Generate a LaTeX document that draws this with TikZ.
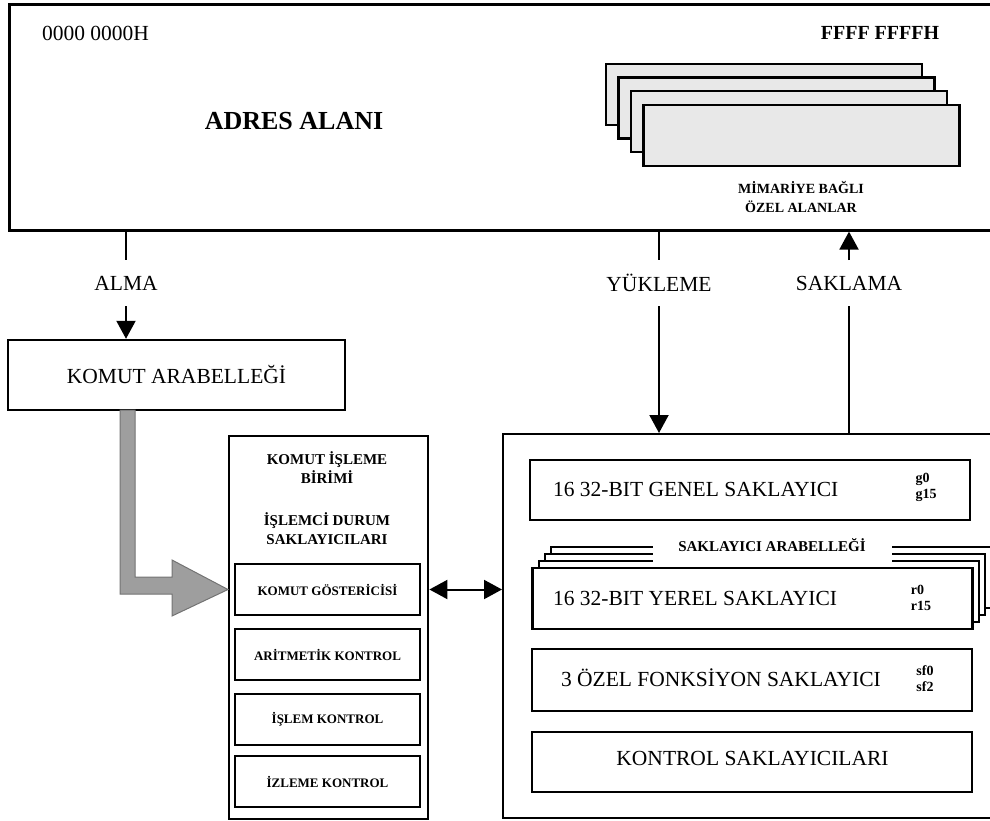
\documentclass[tikz,border=0pt]{standalone}
\usepackage{fontspec}
\setmainfont{Liberation Serif}
\usetikzlibrary{arrows.meta}

\begin{document}
\begin{tikzpicture}[x=1pt, y=-1pt, line width=2pt, >={Triangle[length=18pt,width=19pt]}]
    \tikzstyle{blk}=[draw, line width=2.4pt, shape=rectangle, inner sep=0pt]
    \tikzstyle{page}=[blk, fill=black!9, minimum width=316pt, minimum height=61pt]
    \tikzstyle{reg}=[blk, minimum width=440pt, minimum height=61pt]
    \tikzstyle{ctl}=[blk, line width=2pt, minimum width=185pt, minimum height=51pt, font=\fontsize{13}{15}\selectfont\bfseries]
    \tikzstyle{big}=[font=\fontsize{21.5}{24}\selectfont, inner sep=0pt]
    \tikzstyle{small}=[font=\fontsize{15}{19}\selectfont\bfseries, align=center, inner sep=0pt]
    \tikzstyle{tiny}=[font=\fontsize{14}{16}\selectfont\bfseries, align=left, inner sep=0pt]
    \tikzstyle{lbl}=[big, minimum height=44pt]

    \useasboundingbox (0,0) rectangle (990,821);

    % Address space
    \node[blk, line width=2.6pt, minimum width=1000pt, minimum height=226pt, anchor=north west](adres) at (8,3){};
    \node[big](lo) at (95.5,33){0000 0000H};
    \node[big, font=\fontsize{20}{22}\selectfont\bfseries](hi) at (880,33){FFFF FFFFH};
    \node[big, font=\fontsize{26}{28}\selectfont\bfseries](adrl) at (294,121){ADRES ALANI};

    % Special areas
    \node[page](p1) at (764,94.5){};
    \node[page](p2) at (776.5,108){};
    \node[page](p3) at (789,121.5){};
    \node[page](p4) at (801.5,135.5){};
    \node[small, font=\fontsize{14}{19}\selectfont\bfseries](ozel) at (801,196.5){MİMARİYE BAĞLI\\ÖZEL ALANLAR};

    % Labels between
    \node[lbl](alma) at (126,283){ALMA};
    \node[lbl](yuk) at (659,283){YÜKLEME};
    \node[lbl](sak) at (849,283){SAKLAMA};

    % Instruction buffer
    \node[blk, big, minimum width=337pt, minimum height=70pt](kbuf) at (176.5,375){KOMUT ARABELLEĞİ};

    % Instruction unit
    \node[blk, minimum width=199pt, minimum height=383pt, anchor=north west](lpu) at (228,435){};
    \node[small](kib) at (327,467.5){KOMUT İŞLEME\\BİRİMİ};
    \node[small](idsl) at (327,529){İŞLEMCİ DURUM\\SAKLAYICILARI};
    \node[ctl](kgos) at (327.5,589.5){KOMUT GÖSTERİCİSİ};
    \node[ctl](arit) at (327.5,654.5){ARİTMETİK KONTROL};
    \node[ctl](islk) at (327.5,719.5){İŞLEM KONTROL};
    \node[ctl](izlk) at (327.5,781.5){İZLEME KONTROL};

    % Register file
    \node[blk, minimum width=500pt, minimum height=384pt, anchor=north west](rfile) at (502,433){};
    \node[reg, minimum height=60pt](genel) at (750,490){};
    \node[big, anchor=west](genl) at (552,489){16 32-BIT GENEL SAKLAYICI};
    \node[tiny](gr) at (926,487){g0\\g15};

    \node[reg, line width=2pt, fill=white](y3) at (771.4,577.5){};
    \node[reg, line width=2pt, fill=white](y2) at (765.1,584.5){};
    \node[reg, line width=2pt, fill=white](y1) at (758.8,591.5){};
    \node[fill=white, minimum width=239pt, minimum height=26pt, inner sep=0pt](gap) at (772.5,550){};
    \node[small](rbuf) at (772,545){SAKLAYICI ARABELLEĞİ};
    \node[reg, fill=white](yerel) at (752.5,598.5){};
    \node[big, anchor=west](yerl) at (552,598){16 32-BIT YEREL SAKLAYICI};
    \node[tiny](rr) at (921,598){r0\\r15};

    \node[reg, minimum height=62pt](ozl) at (752,680){};
    \node[big, anchor=west](ozll) at (560,678){3 ÖZEL FONKSİYON SAKLAYICI};
    \node[tiny](sr) at (925,679){sf0\\sf2};

    \node[reg, minimum height=60pt](kont) at (752,762){};
    \node[big](kontl) at (752.5,758){KONTROL SAKLAYICILARI};

    % Connections
    \draw (adres.south -| alma) -- (alma.north);
    \draw[->] (alma.south) -- (kbuf.north -| alma);

    \draw (adres.south -| yuk) -- (yuk.north);
    \draw[->] (yuk.south) -- (rfile.north -| yuk);

    \draw (rfile.north -| sak) -- (sak.south);
    \draw[->] (sak.north) -- (adres.south -| sak);

    \coordinate (tip) at (kgos.west -| lpu.west);
    \draw[fill=black!38, draw=black!55, line width=1pt] (120,410) -- (135,410) -- (135,577) -- (172,577) -- (172,560) -- (tip) -- (172,616) -- (172,594) -- (120,594) -- cycle;

    \draw[<->] (lpu.east |- kgos) -- (rfile.west |- kgos);
\end{tikzpicture}
\end{document}
